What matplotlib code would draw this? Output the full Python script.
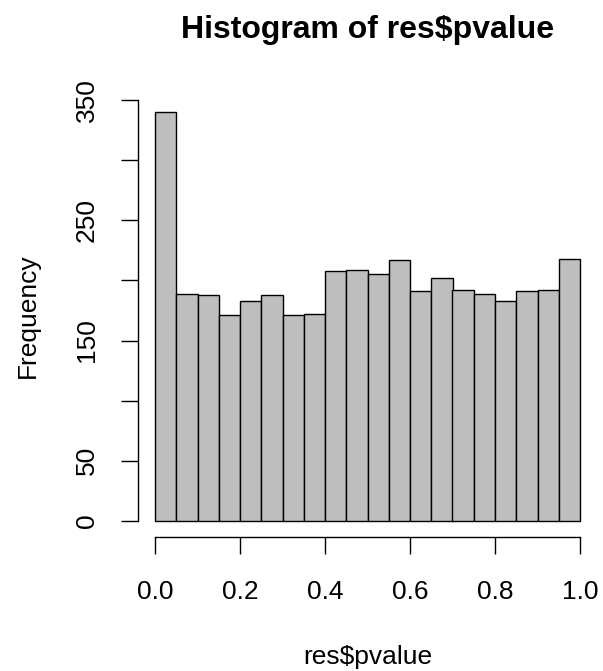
import numpy as np
from matplotlib import pyplot as plt

# Histogrammin luokkarajat ja frekvenssit (luettu kuvasta)
luokkarajat = [0.00, 0.05, 0.10, 0.15, 0.20, 0.25, 0.30, 0.35, 0.40, 0.45,
               0.50, 0.55, 0.60, 0.65, 0.70, 0.75, 0.80, 0.85, 0.90, 0.95]
frekvenssit = [340, 189, 188, 171, 183, 188, 171, 172, 208, 209,
               205, 217, 191, 202, 192, 189, 183, 191, 192, 218]
leveys = 0.05

x_tikit = [0.0, 0.2, 0.4, 0.6, 0.8, 1.0]
x_nimet = ['0.0', '0.2', '0.4', '0.6', '0.8', '1.0']
y_tikit = [0, 50, 100, 150, 200, 250, 300, 350]
y_nimet = ['0', '50', '', '150', '', '250', '', '350']

plt.rcParams['font.family'] = ['Liberation Sans', 'DejaVu Sans']

W, H = 603, 671
fig = plt.figure(figsize=(W / 100, H / 100), dpi=100)
ax = fig.add_axes([138 / W, (H - 537) / H, (597 - 138) / W, (537 - 96) / H])

ax.bar(luokkarajat, frekvenssit, width=leveys, align='edge',
       color='#BEBEBE', edgecolor='black', linewidth=1.0)

ax.set_xlim(-0.04, 1.04)
ax.set_ylim(-13.6, 353.6)

for s in ['top', 'right']:
    ax.spines[s].set_visible(False)
ax.spines['bottom'].set_bounds(0, 1)
ax.spines['left'].set_bounds(0, 350)
ax.spines['bottom'].set_linewidth(1.0)
ax.spines['left'].set_linewidth(1.0)

ax.set_xticks(x_tikit)
ax.set_xticklabels(x_nimet)
ax.set_yticks(y_tikit)
ax.set_yticklabels(y_nimet, rotation=90, va='center')
ax.tick_params(axis='x', length=12, width=1.0, pad=19, labelsize=19)
ax.tick_params(axis='y', length=12, width=1.0, pad=16, labelsize=19)

fig.text(368 / W, 1 - 30 / H, 'Histogram of res$pvalue', ha='center', va='center',
         fontsize=23, fontweight='bold')
fig.text(368 / W, 1 - 657 / H, 'res$pvalue', ha='center', va='center', fontsize=19)
fig.text(28 / W, 1 - 316 / H, 'Frequency', ha='center', va='center', fontsize=19,
         rotation=90)

plt.savefig('out.png', dpi=100)
